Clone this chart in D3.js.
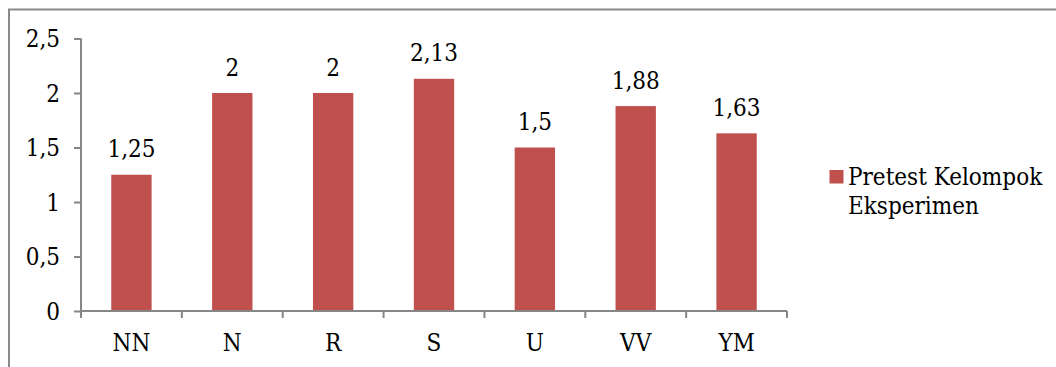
<!DOCTYPE html>
<html>
<head>
<meta charset="utf-8">
<script src="https://cdn.jsdelivr.net/npm/d3@7"></script>
<style>
  html, body { margin: 0; padding: 0; background: #fff; }
  svg { display: block; }
</style>
</head>
<body>
<svg id="chart" width="1056" height="367"></svg>
<script>
// Pretest scores per student group
const categories = ["NN", "N", "R", "S", "U", "VV", "YM"];
const values = [1.25, 2, 2, 2.13, 1.5, 1.88, 1.63];
const yTicks = [0, 0.5, 1, 1.5, 2, 2.5];
const seriesName = ["Pretest Kelompok", "Eksperimen"];

const svg = d3.select("#chart");
const W = 1056, H = 367;
const plot = { left: 81, right: 787, top: 38.5, bottom: 311 };
const barColor = "#C0504D";
const axisColor = "#868686";
const fontSize = 24;
const serifFont = "'DejaVu Serif Condensed', 'DejaVu Serif', serif";
const fmt = v => String(v).replace(".", ",");

// shared text styling
function serif(sel) {
  return sel.style("font-family", serifFont)
    .style("font-stretch", "condensed")
    .style("font-size", fontSize + "px")
    .attr("fill", "#000");
}

// chart frame
svg.append("rect")
  .attr("x", 9).attr("y", 9.5)
  .attr("width", W + 20).attr("height", H + 20)
  .attr("fill", "none").attr("stroke", "#8a8a8a").attr("stroke-width", 2);

const xCat = d3.scaleBand().domain(categories).range([plot.left, plot.right]);
const y = d3.scaleLinear().domain([0, 2.5]).range([plot.bottom, plot.top]);
const barWidth = xCat.bandwidth() * 0.4;
const center = c => xCat(c) + xCat.bandwidth() / 2;

// bars
svg.append("g").selectAll("rect").data(values).join("rect")
  .attr("x", (d, i) => center(categories[i]) - barWidth / 2)
  .attr("width", barWidth)
  .attr("y", d => y(d))
  .attr("height", d => y(0) - y(d))
  .attr("fill", barColor);

// value labels
svg.append("g").selectAll("text").data(values).join("text")
  .attr("x", (d, i) => center(categories[i]))
  .attr("y", d => y(d) - 17.5)
  .attr("text-anchor", "middle")
  .call(serif)
  .text(d => fmt(d));

// y axis
const yAxis = svg.append("g").attr("transform", `translate(${plot.left},0)`)
  .call(d3.axisLeft(y).tickValues(yTicks).tickSize(7).tickPadding(14).tickFormat(fmt));
yAxis.select(".domain").attr("stroke", axisColor).attr("stroke-width", 2).attr("d", `M0,${plot.top}V${plot.bottom}`);
yAxis.selectAll(".tick line").attr("stroke", axisColor).attr("stroke-width", 2);
yAxis.selectAll(".tick text").call(serif).attr("dy", "0.35em");

// x axis with ticks at category boundaries
const xAxis = svg.append("g").attr("transform", `translate(0,${plot.bottom})`);
xAxis.append("path")
  .attr("d", `M${plot.left},0H${plot.right}`)
  .attr("stroke", axisColor).attr("stroke-width", 2).attr("fill", "none");
const boundaries = categories.map(c => xCat(c)).concat([plot.right]);
xAxis.selectAll("line").data(boundaries).join("line")
  .attr("x1", d => d).attr("x2", d => d)
  .attr("y1", 0).attr("y2", 7)
  .attr("stroke", axisColor).attr("stroke-width", 2);
xAxis.selectAll("text").data(categories).join("text")
  .attr("x", d => center(d))
  .attr("y", 40)
  .attr("text-anchor", "middle")
  .call(serif)
  .text(d => d);

// legend
const legend = svg.append("g");
legend.append("rect")
  .attr("x", 829.5).attr("y", 170).attr("width", 14).attr("height", 13.5)
  .attr("fill", barColor);
legend.selectAll("text").data(seriesName).join("text")
  .attr("x", 848)
  .attr("y", (d, i) => 185 + i * 29)
  .call(serif)
  .text(d => d);
</script>
</body>
</html>
